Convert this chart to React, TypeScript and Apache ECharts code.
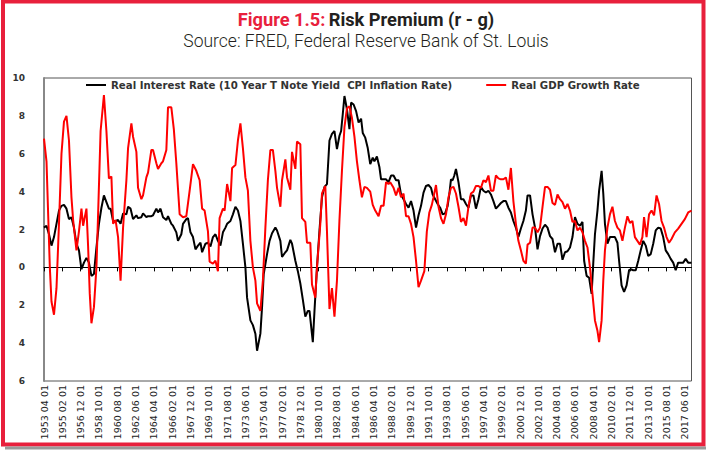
import React, { useEffect, useRef } from "react";
import * as echarts from "echarts";

// Monthly category axis, April 1953 .. February 2018 (labels every 22 months)
const startYear = 1953;
const startMonth = 4;
const monthCount = 779;
const categories: string[] = [];
for (let i = 0; i < monthCount; i++) {
  const t = startYear * 12 + (startMonth - 1) + i;
  const y = Math.floor(t / 12);
  const m = (t % 12) + 1;
  categories.push(`${y} ${m < 10 ? "0" + m : m} 01`);
}

const yTicks = [-6, -4, -2, 0, 2, 4, 6, 8, 10];

const rateName = "Real Interest Rate (10 Year T Note Yield  CPI Inflation Rate)";
const gdpName = "Real GDP Growth Rate";

// Real interest rate (black)
const rateDates = [
  "1953-04","1953-07","1953-10","1954-01","1954-04","1954-07","1954-10","1955-01","1955-04","1955-07","1955-10",
  "1956-01","1956-04","1956-07","1956-10","1957-01","1957-04","1957-07","1957-10","1958-01","1958-04","1958-07",
  "1958-10","1959-01","1959-04","1959-07","1959-10","1959-12","1960-03","1960-06","1960-09","1960-12","1961-03",
  "1961-07","1961-09","1961-12","1962-03","1962-07","1962-09","1963-01","1963-03","1963-07","1963-09","1964-01",
  "1964-03","1964-07","1964-09","1964-12","1965-03","1965-07","1965-09","1966-01","1966-03","1966-07","1966-09",
  "1967-01","1967-03","1967-07","1967-09","1967-12","1968-03","1968-06","1968-09","1968-12","1969-02","1969-06",
  "1969-09","1969-12","1970-03","1970-06","1970-09","1970-12","1971-03","1971-06","1971-08","1971-12","1972-03",
  "1972-06","1972-09","1972-12","1973-03","1973-06","1973-08","1973-12","1974-03","1974-06","1974-08","1974-12",
  "1975-02","1975-04","1975-08","1975-11","1976-02","1976-06","1976-08","1976-12","1977-02","1977-06","1977-08",
  "1977-12","1978-02","1978-06","1978-09","1978-12","1979-03","1979-06","1979-09","1979-11","1980-03","1980-05",
  "1980-08","1980-11","1981-02","1981-05","1981-08","1981-11","1982-02","1982-05","1982-08","1982-11","1983-01",
  "1983-03","1983-05","1983-08","1983-11","1984-01","1984-04","1984-07","1984-10","1985-01","1985-03","1985-06",
  "1985-09","1985-12","1986-03","1986-05","1986-08","1986-11","1987-01","1987-04","1987-07","1987-10","1988-01",
  "1988-04","1988-07","1988-10","1989-01","1989-04","1989-07","1989-10","1990-01","1990-04","1990-07","1990-10",
  "1991-01","1991-04","1991-07","1991-10","1992-01","1992-03","1992-06","1992-09","1992-12","1993-03","1993-06",
  "1993-09","1993-11","1994-01","1994-03","1994-05","1994-07","1994-10","1995-01","1995-04","1995-07","1995-10",
  "1996-01","1996-04","1996-07","1996-10","1997-01","1997-04","1997-07","1997-10","1998-01","1998-04","1998-07",
  "1998-10","1999-01","1999-04","1999-07","1999-10","2000-01","2000-04","2000-07","2000-10","2001-01","2001-04",
  "2001-07","2001-09","2001-12","2002-03","2002-06","2002-09","2002-12","2003-03","2003-06","2003-09","2003-12",
  "2004-03","2004-06","2004-09","2004-12","2005-03","2005-06","2005-09","2005-12","2006-03","2006-06","2006-09",
  "2006-12","2007-03","2007-05","2007-08","2007-11","2008-02","2008-04","2008-06","2008-09","2008-11","2009-02",
  "2009-04","2009-06","2009-09","2009-12","2010-03","2010-06","2010-09","2010-11","2011-02","2011-05","2011-08",
  "2011-11","2012-01","2012-04","2012-07","2012-10","2013-01","2013-04","2013-07","2013-10","2014-01","2014-04",
  "2014-07","2014-10","2015-01","2015-04","2015-07","2015-10","2016-01","2016-04","2016-07","2016-10","2017-01",
  "2017-04","2017-07","2017-10","2018-02",
];
const rateValues = [
  2.1, 2.2, 1.75, 1.15, 1.6, 2.3, 3.0, 3.25, 3.3, 3.1, 2.55,
  2.65, 2.1, 1.25, 0.9, -0.1, 0.25, 0.5, 0.25, -0.45, -0.35, 1.05,
  2.3, 3.15, 3.8, 3.45, 3.1, 3.1, 2.45, 2.45, 2.5, 2.3, 2.85,
  2.8, 3.2, 3.1, 2.55, 2.75, 2.6, 2.65, 2.85, 2.65, 2.7, 2.7,
  2.75, 3.1, 2.9, 3.1, 2.65, 2.5, 2.7, 2.3, 2.2, 1.85, 1.4,
  1.75, 2.3, 2.55, 2.6, 1.85, 1.6, 0.95, 1.15, 1.3, 0.8, 1.25,
  1.3, 1.1, 1.6, 1.75, 1.4, 1.15, 1.85, 2.1, 2.3, 2.45, 2.8,
  3.2, 3.0, 2.45, 1.25, 0, -1.6, -2.8, -3.05, -3.5, -4.4, -3.5,
  -2.1, -0.35, 0.7, 1.4, 1.8, 2.1, 1.95, 1.4, 0.55, 0.8, 0.9,
  1.45, 1.25, 0.35, -0.2, -0.85, -1.7, -2.6, -2.3, -2.3, -3.95, -2.3,
  0, 1.95, 3.7, 4.25, 4.4, 6.7, 7.05, 7.2, 6.25, 6.95, 7.2,
  8.1, 9.05, 8.35, 7.3, 8.7, 8.6, 8.25, 7.65, 7.85, 7.1, 6.85,
  6.3, 5.45, 5.8, 5.6, 5.85, 5.3, 4.65, 4.65, 4.65, 4.5, 4.85,
  4.85, 4.6, 4.6, 3.85, 3.6, 3.35, 3.15, 3.5, 3.0, 2.1, 2.75,
  3.25, 3.95, 4.3, 4.35, 4.2, 3.85, 3.6, 3.35, 3.15, 2.8, 2.85,
  3.25, 3.85, 4.65, 4.6, 4.85, 5.2, 4.5, 3.6, 3.6, 3.35, 3.15,
  3.8, 3.8, 3.1, 3.6, 4.25, 4.05, 3.95, 4.05, 3.85, 3.5, 3.1,
  3.25, 3.4, 3.5, 3.5, 3.15, 2.9, 2.45, 2.1, 1.6, 2.05, 2.45,
  3.0, 3.8, 3.8, 2.8, 2.1, 0.95, 1.65, 2.05, 2.25, 2.1, 1.65,
  1.5, 0.8, 1.25, 1.25, 0.4, 0.8, 0.85, 1.05, 1.6, 2.65, 2.3,
  2.2, 2.4, 0.35, -0.45, -0.55, -1.4, 0.25, 1.75, 3.0, 4.05, 5.1,
  3.9, 2.3, 1.25, 1.6, 1.6, 1.6, 1.3, 0.35, -0.95, -1.3, -0.95,
  -0.15, -0.1, -0.15, -0.15, 0.35, 0.9, 1.4, 1.15, 0.6, 0.7, 1.25,
  1.95, 2.1, 2.05, 1.6, 0.9, 0.7, 0.45, 0.25, -0.15, 0.25, 0.25,
  0.25, 0.45, 0.25, 0.25,
];

// Real GDP growth rate (red)
const gdpDates = [
  "1953-04","1953-07","1953-11","1954-01","1954-04","1954-07","1954-10","1955-01","1955-04","1955-07","1955-10",
  "1956-01","1956-03","1956-07","1956-10","1957-01","1957-03","1957-07","1957-09","1957-11","1958-01","1958-04",
  "1958-07","1958-09","1958-12","1959-04","1959-07","1959-10","1960-01","1960-03","1960-06","1960-09","1960-12",
  "1961-03","1961-07","1961-09","1962-01","1962-03","1962-07","1962-09","1963-01","1963-03","1963-07","1963-09",
  "1964-01","1964-03","1964-07","1964-09","1965-01","1965-03","1965-07","1965-09","1966-01","1966-04","1966-07",
  "1966-11","1967-03","1967-07","1967-11","1968-03","1968-07","1968-11","1969-02","1969-05","1969-09","1969-11",
  "1970-03","1970-06","1970-09","1970-11","1971-03","1971-05","1971-08","1971-12","1972-02","1972-06","1972-09",
  "1972-12","1973-03","1973-06","1973-09","1973-12","1974-03","1974-06","1974-08","1974-12","1975-03","1975-06",
  "1975-09","1975-12","1976-03","1976-06","1976-08","1976-12","1977-02","1977-06","1977-08","1977-12","1978-02",
  "1978-06","1978-08","1978-12","1979-02","1979-06","1979-08","1979-12","1980-02","1980-06","1980-08","1980-12",
  "1981-02","1981-06","1981-08","1981-11","1982-02","1982-05","1982-08","1982-11","1983-02","1983-05","1983-08",
  "1983-11","1984-02","1984-05","1984-08","1984-11","1985-02","1985-05","1985-08","1985-12","1986-03","1986-06",
  "1986-10","1987-01","1987-04","1987-07","1987-10","1987-12","1988-04","1988-07","1988-10","1989-01","1989-04",
  "1989-07","1989-10","1990-01","1990-04","1990-07","1990-10","1991-01","1991-05","1991-08","1991-11","1992-02",
  "1992-04","1992-07","1992-10","1993-01","1993-04","1993-07","1993-10","1994-01","1994-04","1994-07","1994-10",
  "1995-01","1995-04","1995-07","1995-10","1996-01","1996-04","1996-07","1996-10","1997-01","1997-04","1997-07",
  "1997-10","1998-01","1998-04","1998-07","1998-10","1999-01","1999-04","1999-07","1999-10","2000-01","2000-04",
  "2000-07","2000-10","2001-01","2001-04","2001-07","2001-09","2001-12","2002-03","2002-06","2002-09","2002-12",
  "2003-03","2003-06","2003-09","2003-12","2004-03","2004-06","2004-09","2004-12","2005-03","2005-06","2005-09",
  "2005-12","2006-03","2006-06","2006-09","2006-12","2007-03","2007-06","2007-09","2007-12","2008-03","2008-06",
  "2008-09","2008-11","2009-02","2009-04","2009-06","2009-09","2009-12","2010-03","2010-06","2010-09","2010-12",
  "2011-03","2011-06","2011-09","2011-12","2012-03","2012-06","2012-09","2012-12","2013-03","2013-05","2013-08",
  "2013-11","2014-02","2014-05","2014-08","2014-11","2015-02","2015-05","2015-08","2015-11","2016-02","2016-06",
  "2016-10","2017-02","2017-06","2017-10","2018-02",
];
const gdpValues = [
  6.8, 5.6, 0, -1.8, -2.5, -1.1, 2.3, 6.0, 7.7, 8.0, 6.7,
  3.7, 2.5, 0.9, 1.9, 3.1, 2.2, 3.1, 1.1, -1.4, -2.95, -2.1,
  0, 2.8, 7.2, 9.1, 7.2, 4.7, 4.8, 2.3, 2.5, 1.6, -0.7,
  2.1, 4.6, 6.3, 7.6, 6.9, 6.1, 4.2, 3.6, 3.8, 4.75, 5.0,
  6.2, 6.2, 5.5, 5.2, 5.5, 5.6, 6.2, 8.45, 8.45, 7.3, 5.5,
  2.8, 2.65, 2.7, 4.05, 5.45, 5.1, 4.6, 3.1, 3.0, 1.9, 0.3,
  0.2, 0.35, -0.2, 2.6, 3.1, 3.0, 4.4, 3.5, 5.25, 5.4, 6.7,
  7.6, 6.3, 4.75, 4.05, 1.4, 0, -0.7, -1.9, -2.3, -0.7, 2.1,
  4.6, 6.2, 6.2, 5.1, 4.2, 3.2, 4.6, 5.7, 4.75, 4.1, 6.1,
  5.2, 6.65, 6.5, 2.6, 2.4, 1.3, 1.3, -0.9, -1.6, 0, 2.3,
  3.9, 4.3, 1.9, -2.2, -1.1, -2.6, -0.7, 2.5, 5.1, 7.4, 8.4,
  8.5, 7.9, 6.9, 5.6, 4.6, 3.7, 4.25, 4.2, 4.0, 3.3, 3.0,
  2.7, 3.25, 3.25, 4.5, 4.4, 4.5, 4.2, 3.8, 4.2, 3.7, 3.9,
  2.7, 2.7, 2.3, 1.6, 0.35, -1.05, -0.7, -0.2, 1.9, 2.9, 3.3,
  3.7, 4.35, 3.2, 2.6, 2.3, 2.8, 3.7, 4.2, 4.25, 3.9, 3.2,
  2.4, 2.6, 2.2, 3.2, 3.9, 4.0, 4.3, 4.3, 4.2, 4.6, 4.5,
  4.85, 4.05, 4.05, 4.85, 4.7, 4.65, 4.65, 4.75, 4.1, 5.25, 3.5,
  2.3, 1.4, 0.9, 0.35, 0.2, 1.2, 1.3, 2.1, 2.1, 1.85, 2.1,
  3.2, 4.25, 4.25, 4.1, 3.4, 3.3, 3.85, 3.6, 3.45, 3.1, 3.35,
  3.0, 2.4, 2.45, 1.95, 2.1, 1.85, 1.4, 1.05, 0, -1.4, -2.8,
  -3.35, -3.95, -2.8, -0.7, 0.9, 2.1, 2.8, 3.2, 2.45, 2.1, 1.95,
  1.4, 2.1, 2.7, 2.35, 2.45, 1.6, 1.4, 1.2, 1.6, 2.65, 1.6,
  2.8, 3.0, 2.75, 3.8, 3.35, 2.45, 2.1, 1.6, 1.3, 1.5, 1.85,
  2.05, 2.3, 2.55, 2.9, 3.0,
];

const toCat = (d: string) => d.replace("-", " ") + " 01";
const pairs = (dates: string[], vals: number[]) => dates.map((d, i) => [toCat(d), vals[i]]);

const BOLD_SANS = "'DejaVu Sans', Verdana, sans-serif";
const RED = "#e8203c";

export default function App() {
  const ref = useRef<HTMLDivElement>(null);
  useEffect(() => {
    document.body.style.margin = "0";
    if (!ref.current) return;
    const chart = echarts.init(ref.current, undefined, { renderer: "svg" });
    chart.setOption({
      animation: false,
      backgroundColor: "#ffffff",
      graphic: [
        {
          type: "rect",
          silent: true,
          shape: { x: 3, y: 1.5, width: 700.5, height: 443 },
          style: { fill: "none", stroke: RED, lineWidth: 4 },
        },
        {
          type: "line",
          silent: true,
          shape: { x1: 5, y1: 448, x2: 706, y2: 448 },
          style: { stroke: "#9a9a9a", lineWidth: 3 },
        },
        {
          type: "text",
          x: 366,
          y: 19.5,
          scaleX: 0.96,
          style: {
            text: "{a|Figure 1.5:} {b|Risk Premium (r - g)}",
            align: "center",
            verticalAlign: "middle",
            rich: {
              a: { fontFamily: "Roboto", fontWeight: "bold", fontSize: 19, fill: RED },
              b: { fontFamily: "Roboto", fontWeight: "bold", fontSize: 19, fill: "#231f20" },
            },
          },
        },
        {
          type: "text",
          x: 366,
          y: 41,
          scaleX: 1.0,
          style: {
            text: "Source: FRED, Federal Reserve Bank of St. Louis",
            align: "center",
            verticalAlign: "middle",
            fontFamily: "Roboto",
            fontWeight: 300,
            fontSize: 17.5,
            fill: "#231f20",
          },
        },
      ],
      legend: {
        left: 86,
        top: 80,
        padding: 0,
        itemGap: 34,
        itemWidth: 20,
        itemHeight: 2,
        icon: "rect",
        data: [rateName, gdpName],
        textStyle: { fontFamily: BOLD_SANS, fontWeight: "bold", fontSize: 10.2, color: "#333" },
      },
      grid: {
        left: 44,
        right: 14.5,
        top: 78,
        bottom: 71,
        show: true,
        borderColor: "#555",
        borderWidth: 1,
      },
      xAxis: [
        {
          type: "category",
          data: categories,
          boundaryGap: false,
          position: "bottom",
          axisLine: { show: false, onZero: false },
          axisTick: { show: false },
          axisLabel: {
            interval: 21,
            rotate: 90,
            margin: 4,
            fontFamily: BOLD_SANS,
            fontSize: 9.5,
            color: "#222",
          },
          splitLine: { show: false },
        },
        {
          type: "category",
          data: categories,
          boundaryGap: false,
          position: "top",
          axisLine: { show: true, onZero: true, lineStyle: { color: "#000", width: 1 } },
          axisTick: { show: true, inside: true, length: 4, interval: 21, lineStyle: { color: "#000" } },
          axisLabel: { show: false },
          splitLine: { show: false },
        },
      ],
      yAxis: {
        type: "value",
        min: yTicks[0],
        max: yTicks[yTicks.length - 1],
        interval: 2,
        axisLine: { show: true, lineStyle: { color: "#888", width: 2 } },
        axisTick: { show: false },
        splitLine: { show: false },
        axisLabel: {
          margin: 19,
          fontFamily: BOLD_SANS,
          fontWeight: "bold",
          fontSize: 9,
          color: "#333",
          formatter: (v: number) => String(Math.abs(v)),
        },
      },
      series: [
        {
          name: rateName,
          type: "line",
          xAxisIndex: 0,
          data: pairs(rateDates, rateValues),
          symbol: "none",
          color: "#000000",
          lineStyle: { color: "#000000", width: 2 },
        },
        {
          name: gdpName,
          type: "line",
          xAxisIndex: 0,
          data: pairs(gdpDates, gdpValues),
          symbol: "none",
          color: "#ff0000",
          lineStyle: { color: "#ff0000", width: 2 },
        },
      ],
    });
    return () => chart.dispose();
  }, []);
  return (
    <div
      ref={ref}
      style={{ position: "absolute", left: 0, top: 0, width: 706, height: 452 }}
    />
  );
}
